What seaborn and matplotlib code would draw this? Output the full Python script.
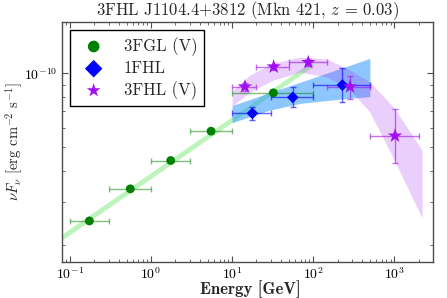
import numpy as np
import pandas as pd
import matplotlib
matplotlib.use("Agg")
import matplotlib.pyplot as plt
import matplotlib.ticker as mticker
import seaborn as sns

# 3FGL (V) points: energy [GeV], bin edges, nuFnu [erg cm^-2 s^-1]
fgl_e = [0.174, 0.556, 1.75, 5.5, 32.3]
fgl_lo = [0.1, 0.3, 1.0, 3.0, 10.0]
fgl_hi = [0.3, 1.0, 3.0, 10.0, 100.0]
fgl_f = [2.50e-11, 3.38e-11, 4.41e-11, 5.81e-11, 8.33e-11]
fgl_ferr = [0.5e-12, 0.6e-12, 0.8e-12, 1.2e-12, 2.0e-12]

# 1FHL points
fhl1_e = [17.8, 56.0, 229.0]
fhl1_lo = [10.0, 30.0, 100.0]
fhl1_hi = [30.0, 100.0, 500.0]
fhl1_f = [6.87e-11, 7.98e-11, 8.96e-11]
fhl1_fmin = [6.45e-11, 7.26e-11, 7.61e-11]
fhl1_fmax = [7.30e-11, 8.77e-11, 1.048e-10]

# 3FHL (V) points
fhl3_e = [14.4, 32.6, 87.0, 285.0, 1020.0]
fhl3_lo = [10.0, 20.0, 50.0, 150.0, 500.0]
fhl3_hi = [20.0, 50.0, 150.0, 500.0, 2000.0]
fhl3_f = [8.82e-11, 1.064e-10, 1.109e-10, 8.82e-11, 5.56e-11]
fhl3_fmin = [8.50e-11, 1.035e-10, 1.075e-10, 7.86e-11, 4.32e-11]
fhl3_fmax = [9.15e-11, 1.095e-10, 1.145e-10, 9.78e-11, 7.13e-11]

# model bands
fgl_band_e = [0.08, 100.0]
fgl_band_lo = [2.09e-11, 1.07e-10]
fgl_band_hi = [2.21e-11, 1.13e-10]

fhl1_band_e = [10.0, 29.0, 69.0, 214.0, 500.0]
fhl1_band_lo = [6.29e-11, 7.08e-11, 7.54e-11, 7.85e-11, 8.04e-11]
fhl1_band_hi = [7.39e-11, 8.34e-11, 9.20e-11, 1.045e-10, 1.151e-10]

fhl3_band_e = [10.0, 16.6, 32.0, 69.0, 148.0, 285.0, 500.0, 1000.0, 2200.0]
fhl3_band_lo = [7.35e-11, 8.39e-11, 9.39e-11, 1.012e-10, 9.66e-11, 8.55e-11, 6.95e-11, 4.43e-11, 2.57e-11]
fhl3_band_hi = [8.47e-11, 9.84e-11, 1.101e-10, 1.166e-10, 1.144e-10, 1.031e-10, 9.22e-11, 7.22e-11, 4.86e-11]

sns.set_style("ticks")
plt.rcParams['font.family'] = 'cmr10'
plt.rcParams['mathtext.fontset'] = 'cm'
plt.rcParams['axes.unicode_minus'] = False
plt.rcParams['axes.formatter.use_mathtext'] = True

fig = plt.figure(figsize=(4.47, 2.98), dpi=100)
ax = fig.add_axes([62 / 447, 36 / 298, 371 / 447, 240 / 298])
ax.set_xscale('log')
ax.set_yscale('log')

# bands
ax.fill_between(fgl_band_e, fgl_band_lo, fgl_band_hi, color='lightgreen', alpha=0.6, lw=0, zorder=1)
ax.fill_between(fhl1_band_e, fhl1_band_lo, fhl1_band_hi, color='dodgerblue', alpha=0.5, lw=0, zorder=1)
ax.fill_between(fhl3_band_e, fhl3_band_lo, fhl3_band_hi, color='#a020f0', alpha=0.22, lw=0, zorder=1)

purple = '#a010f0'

# error bars
def errbars(e, lo, hi, f, fmin, fmax, col, a):
    e = np.array(e); f = np.array(f)
    xerr = [e - np.array(lo), np.array(hi) - e]
    yerr = [f - np.array(fmin), np.array(fmax) - f]
    ax.errorbar(e, f, xerr=xerr, yerr=yerr, fmt='none', ecolor=col, alpha=a,
                capsize=2, elinewidth=1, capthick=1, zorder=3)

errbars(fgl_e, fgl_lo, fgl_hi, fgl_f, np.array(fgl_f) - fgl_ferr, np.array(fgl_f) + fgl_ferr, 'green', 0.5)
errbars(fhl1_e, fhl1_lo, fhl1_hi, fhl1_f, fhl1_fmin, fhl1_fmax, 'blue', 0.6)
errbars(fhl3_e, fhl3_lo, fhl3_hi, fhl3_f, fhl3_fmin, fhl3_fmax, purple, 0.6)

# points
sns.scatterplot(x=fgl_e, y=fgl_f, marker='o', color='green', s=40, edgecolor='none',
                label='3FGL (V)', ax=ax, zorder=5)
sns.scatterplot(x=fhl1_e, y=fhl1_f, marker='D', color='blue', s=36, edgecolor='none',
                label='1FHL', ax=ax, zorder=5)
sns.scatterplot(x=fhl3_e, y=fhl3_f, marker='*', color=purple, s=120, edgecolor='none',
                label='3FHL (V)', ax=ax, zorder=5)

ax.set_xlim(0.08, 3000)
ax.set_ylim(1.7e-11, 1.62e-10)
ax.yaxis.set_minor_formatter(mticker.NullFormatter())
ax.xaxis.set_minor_formatter(mticker.NullFormatter())

ax.set_title('3FHL J1104.4+3812 (Mkn 421, $z$ = 0.03)', fontsize=12, pad=5)
ax.set_xlabel('Energy [GeV]', fontsize=12, family='cmb10')
ax.set_ylabel(r'$\nu F_\nu$ [erg cm$^{-2}$ s$^{-1}$]', fontsize=10.5)
ax.xaxis.set_label_coords(0.507, -0.078)
ax.yaxis.set_label_coords(-0.10, 0.5)

ax.tick_params(which='both', direction='in', top=True, right=True, colors='0.3',
               labelcolor='black', labelsize=10)
ax.tick_params(which='major', length=4, pad=3)
ax.tick_params(which='minor', length=2)
for s in ax.spines.values():
    s.set_color('0.3')
    s.set_linewidth(1)

leg = ax.legend(loc='upper left', fontsize=12, frameon=True, fancybox=False,
                edgecolor='black', framealpha=1, borderaxespad=0.5, labelspacing=0.3)
leg.get_frame().set_linewidth(1)
for h, sz in zip(leg.legend_handles, [70, 80, 110]):
    h.set_sizes([sz])

fig.savefig('out.png', dpi=100)
